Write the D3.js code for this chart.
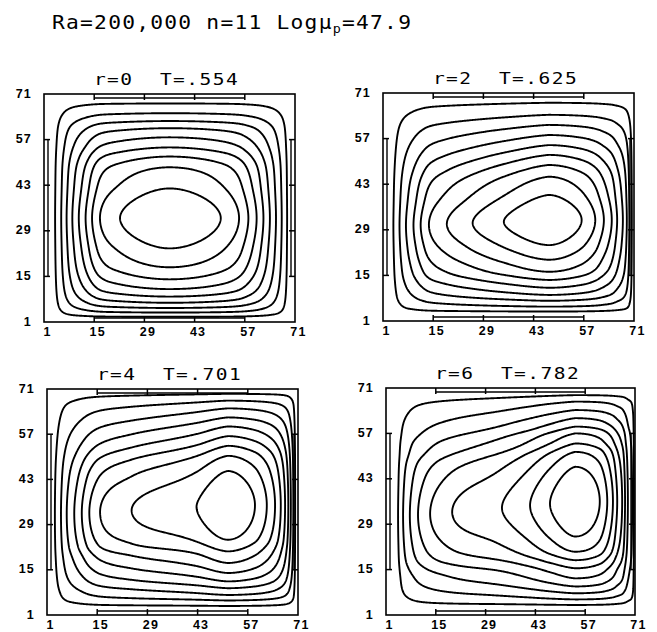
<!DOCTYPE html>
<html>
<head>
<meta charset="utf-8">
<script src="https://cdn.jsdelivr.net/npm/d3@7"></script>
<style>
  body { margin: 0; background: #fff; }
  text { fill: #000; }
</style>
</head>
<body>
<svg id="chart" width="657" height="632"></svg>
<script>
// ---- data -------------------------------------------------------------
const tickValues = [1, 15, 29, 43, 57, 71];
const innerTicks = [15, 29, 43, 57];
const levels = [0.1, 0.2, 0.3, 0.4, 0.5, 0.6, 0.7, 0.8, 0.9];

const rValues = [0, 2, 4, 6];
const tauValues = [".554", ".625", ".701", ".782"];

// cell core (maximum of the stream function), grid units
const coreX = [36.0, 47.2, 51.4, 54.2];
const coreY = [32.9, 32.0, 35.0, 36.0];

// where each streamline level crosses the row / column through the core
// (levels ordered outer -> inner, grid units 1..71)
const leftX = [
  [4.1, 5.8, 7.3, 8.9, 10.7, 12.6, 14.4, 16.6, 22.2],
  [3.9, 5.6, 7.4, 9.5, 11.5, 13.8, 18.8, 26.0, 34.7],
  [3.2, 4.9, 6.5, 8.6, 10.7, 12.8, 15.8, 24.6, 42.7],
  [4.4, 5.8, 7.7, 10.0, 13.4, 19.6, 33.6, 41.5, 47.1]
];
const rightX = [
  [68.8, 67.3, 65.7, 64.0, 62.2, 60.3, 58.0, 55.4, 50.3],
  [70.4, 69.7, 69.0, 67.9, 66.3, 64.8, 62.6, 60.2, 56.4],
  [70.2, 69.7, 69.0, 68.3, 67.4, 66.2, 64.6, 62.3, 59.0],
  [70.7, 70.2, 69.0, 68.2, 67.4, 66.0, 64.8, 63.2, 61.1]
];
const bottomY = [
  [2.6, 3.9, 5.3, 6.9, 8.8, 11.1, 14.1, 17.8, 23.6],
  [3.9, 5.4, 7.2, 9.0, 11.2, 13.6, 16.1, 19.8, 24.3],
  [3.8, 5.5, 7.2, 9.3, 11.4, 14.0, 17.1, 20.7, 24.3],
  [4.1, 5.8, 7.7, 9.8, 12.3, 15.4, 17.9, 20.5, 25.2]
];
const topY = [
  [68.1, 65.1, 62.7, 60.5, 57.7, 54.6, 51.8, 48.5, 42.0],
  [68.0, 64.3, 61.2, 58.1, 55.0, 52.0, 48.9, 45.3, 39.7],
  [69.5, 67.4, 65.0, 62.2, 59.4, 56.4, 53.4, 50.3, 45.6],
  [68.8, 66.8, 64.2, 61.7, 59.1, 57.0, 53.9, 51.3, 46.7]
];
// narrowing of the streamlines toward the cold (left) side, and the
// downward drift of their noses, per panel
const squeeze = [0, 0.55, 1.0, 1.45];
const noseDrop = [0, 2, 3, 5];

// ---- layout -------------------------------------------------------------
const panels = [
  { x: 44,  y: 94,  w: 251, h: 228 },
  { x: 383, y: 93,  w: 251, h: 228 },
  { x: 47,  y: 389, w: 251, h: 226 },
  { x: 386, y: 388, w: 249, h: 227 }
];

// ---- helpers ----------------------------------------------------------------
// monotone cubic (Fritsch–Carlson) through the given knots
function monotoneCubic(xs, ys) {
  const n = xs.length, d = [], m = new Array(n);
  for (let i = 0; i < n - 1; i++) d.push((ys[i + 1] - ys[i]) / (xs[i + 1] - xs[i]));
  m[0] = d[0]; m[n - 1] = d[n - 2];
  for (let i = 1; i < n - 1; i++) m[i] = d[i - 1] * d[i] <= 0 ? 0 : (d[i - 1] + d[i]) / 2;
  for (let k = 0; k < n - 1; k++) {
    if (d[k] === 0) { m[k] = m[k + 1] = 0; continue; }
    const a = m[k] / d[k], b = m[k + 1] / d[k], s = a * a + b * b;
    if (s > 9) { const t = 3 / Math.sqrt(s); m[k] = t * a * d[k]; m[k + 1] = t * b * d[k]; }
  }
  return x => {
    if (x <= xs[0]) return ys[0];
    if (x >= xs[n - 1]) return ys[n - 1];
    let k = 0;
    while (x > xs[k + 1]) k++;
    const h = xs[k + 1] - xs[k], t = (x - xs[k]) / h, t2 = t * t, t3 = t2 * t;
    return (2 * t3 - 3 * t2 + 1) * ys[k] + (t3 - 2 * t2 + t) * h * m[k] +
           (-2 * t3 + 3 * t2) * ys[k + 1] + (t3 - t2) * h * m[k + 1];
  };
}

function profile(lo, core, hi) {
  const xs = [1, ...lo, core, ...hi.slice().reverse(), 71];
  const ys = [0, ...levels, 1, ...levels.slice().reverse(), 0];
  return monotoneCubic(xs, ys);
}

const svg = d3.select("#chart");
const MONO = "'DejaVu Sans Mono', 'Liberation Mono', monospace";

// title
const title = svg.append("text")
  .attr("transform", "translate(52,29) scale(1.12,1)")
  .attr("font-family", MONO).attr("font-size", 19).attr("letter-spacing", 1.1);
title.append("tspan").text("Ra=200,000 n=11 Log\u03bc");
title.append("tspan").attr("font-size", 12).attr("dy", 4).text("p");
title.append("tspan").attr("dy", -4).text("=47.9");

const STEP = 0.25;
const N = Math.round(70 / STEP) + 1;
const M = 0.6; // corner sharpness of the streamlines

panels.forEach((p, k) => {
  const g = svg.append("g").attr("transform", `translate(${p.x},${p.y})`);
  const xScale = d3.scaleLinear().domain([1, 71]).range([0, p.w]);
  const yScale = d3.scaleLinear().domain([1, 71]).range([p.h, 0]);

  const fx = profile(leftX[k], coreX[k], rightX[k]);
  const gy = profile(bottomY[k], coreY[k], topY[k]);
  const xc = coreX[k];

  const values = new Float64Array(N * N);
  for (let i = 0; i < N; i++) {
    const x = 1 + i * STEP;
    const a = fx(x);
    const side = x < xc ? (xc - x) / (xc - 1) : 0;
    const sq = squeeze[k] * side;
    const drop = noseDrop[k] * side;
    for (let j = 0; j < N; j++) {
      const y = 1 + j * STEP;
      const ys = y + drop * Math.sin(Math.PI * (y - 1) / 70);
      const g0 = Math.max(0, gy(ys));
      const b = Math.pow(g0, 1 + sq * g0);
      values[j * N + i] = (a <= 0 || b <= 0) ? 0 :
        Math.pow(Math.pow(a, -M) + Math.pow(b, -M) - 1, -1 / M);
    }
  }

  const contours = d3.contours().size([N, N]).thresholds(levels)(values);
  const path = d3.geoPath(d3.geoTransform({
    point(x, y) {
      this.stream.point(xScale(1 + (x - 0.5) * STEP), yScale(1 + (y - 0.5) * STEP));
    }
  }));

  g.append("g").selectAll("path").data(contours).join("path")
    .attr("d", path)
    .attr("fill", "none").attr("stroke", "#000")
    .attr("stroke-width", 1.9).attr("stroke-linejoin", "round");

  // frame
  g.append("rect").attr("width", p.w).attr("height", p.h)
    .attr("fill", "none").attr("stroke", "#000").attr("stroke-width", 1.6);

  // inward tick marks on all four sides
  const tickLen = 6;
  const tg = g.append("g").attr("stroke", "#000").attr("stroke-width", 1.5);
  tg.selectAll(".tt").data(innerTicks).join("line").attr("class", "tt")
    .attr("x1", d => xScale(d)).attr("x2", d => xScale(d)).attr("y1", 0).attr("y2", tickLen);
  tg.selectAll(".tb").data(innerTicks).join("line").attr("class", "tb")
    .attr("x1", d => xScale(d)).attr("x2", d => xScale(d)).attr("y1", p.h).attr("y2", p.h - tickLen);
  tg.selectAll(".tl").data(innerTicks).join("line").attr("class", "tl")
    .attr("y1", d => yScale(d)).attr("y2", d => yScale(d)).attr("x1", 0).attr("x2", tickLen);
  tg.selectAll(".tr").data(innerTicks).join("line").attr("class", "tr")
    .attr("y1", d => yScale(d)).attr("y2", d => yScale(d)).attr("x1", p.w).attr("x2", p.w - tickLen);

  // wall streamline running just inside the frame between the outer ticks
  const lo = innerTicks[0], hi = innerTicks[innerTicks.length - 1], inset = 4;
  const wall = g.append("g").attr("stroke", "#000").attr("stroke-width", 1.4);
  wall.append("line").attr("x1", xScale(lo)).attr("x2", xScale(hi)).attr("y1", inset).attr("y2", inset);
  wall.append("line").attr("x1", xScale(lo)).attr("x2", xScale(hi)).attr("y1", p.h - inset).attr("y2", p.h - inset);
  wall.append("line").attr("y1", yScale(lo)).attr("y2", yScale(hi)).attr("x1", inset).attr("x2", inset);
  wall.append("line").attr("y1", yScale(lo)).attr("y2", yScale(hi)).attr("x1", p.w - inset).attr("x2", p.w - inset);

  // tick labels
  const lx = g.append("g").attr("transform", `translate(3,${p.h})`)
    .call(d3.axisBottom(xScale).tickValues(tickValues).tickSize(0).tickPadding(5));
  const ly = g.append("g").attr("transform", `translate(0,-1)`)
    .call(d3.axisLeft(yScale).tickValues(tickValues).tickSize(0).tickPadding(12));
  [lx, ly].forEach(a => {
    a.select(".domain").remove();
    a.selectAll("text").attr("font-family", "'Liberation Sans', Arial, sans-serif")
      .attr("font-size", 12.5).attr("font-weight", "bold").attr("letter-spacing", 1.2);
  });

  // panel heading
  g.append("text")
    .attr("transform", `translate(${p.w / 2 - 3},-9) scale(1.22,1)`)
    .attr("text-anchor", "middle")
    .attr("font-family", MONO).attr("font-size", 16).attr("letter-spacing", 1.2)
    .attr("xml:space", "preserve")
    .text(`r=${rValues[k]}  T=${tauValues[k]}`);
});
</script>
</body>
</html>
